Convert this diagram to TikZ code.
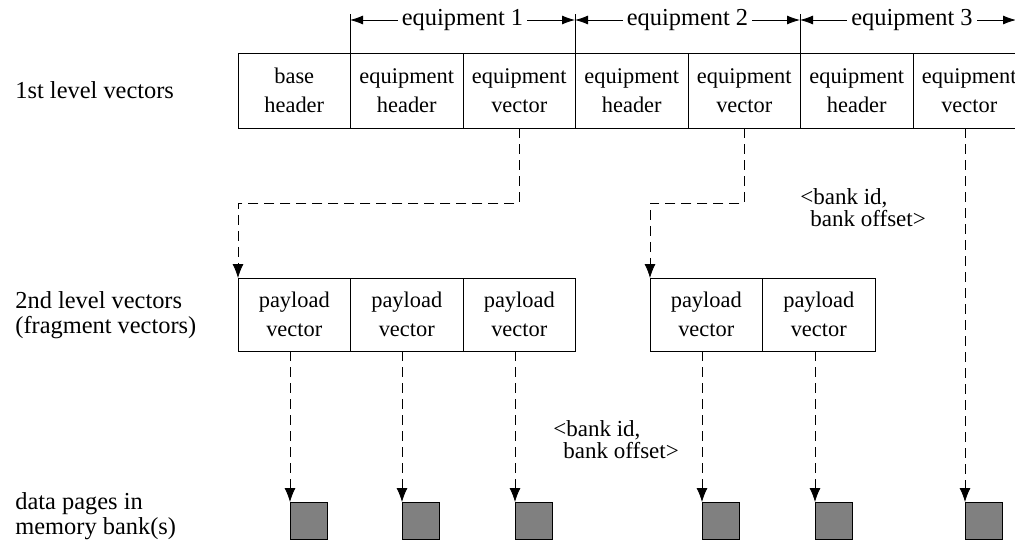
\documentclass[tikz,border=0pt]{standalone}
\usepackage{fontspec}
\setmainfont{Liberation Serif}
\usetikzlibrary{positioning,arrows.meta}

\tikzset{
  cell/.style={rectangle, draw, outer sep=0pt, inner sep=0pt, minimum width=56.25pt, minimum height=37.5pt, align=center, font=\fontsize{11.2}{14.5}\selectfont},
  pagebox/.style={rectangle, draw, fill=gray, outer sep=0pt, inner sep=0pt, minimum size=18.75pt},
  rowlabel/.style={inner sep=0pt, align=left, font=\fontsize{12.2}{12.5}\selectfont},
  addrlabel/.style={inner sep=0pt, align=left, anchor=north west, font=\fontsize{11.5}{9.5}\selectfont},
  ptr/.style={dash pattern=on 5pt off 3pt, -{Latex[length=7pt,width=5.5pt]}},
  span/.style={{Latex[length=6.5pt,width=4.5pt]}-{Latex[length=6.5pt,width=4.5pt]}}
}

\begin{document}
\begin{tikzpicture}[x=0.5pt, y=-0.5pt, node distance=0pt, font=\fontsize{12.2}{14}\selectfont]
  \clip (0,0) rectangle (1015,542);

  % row labels
  \node[rowlabel, anchor=base west] (lvl1) at (15,98) {1st level vectors};
  \node[rowlabel, anchor=north west] (lvl2) at (15,291) {2nd level vectors\\(fragment vectors)};
  \node[rowlabel, anchor=north west] (lvl3) at (15,492) {data pages in\\memory bank(s)};

  % 1st level
  \node[cell] (bh) at (294.25,90.5) {base\\header};
  \node[cell, right=of bh] (eh1) {equipment\\header};
  \node[cell, right=of eh1] (ev1) {equipment\\vector};
  \node[cell, right=of ev1] (eh2) {equipment\\header};
  \node[cell, right=of eh2] (ev2) {equipment\\vector};
  \node[cell, right=of ev2] (eh3) {equipment\\header};
  \node[cell, right=of eh3] (ev3) {equipment\\vector};

  % equipment spans
  \coordinate (s1) at (350,20);
  \coordinate (s2) at (575,20);
  \coordinate (s3) at (800,20);
  \coordinate (s4) at (1016,20);
  \foreach \c in {eh1,eh2,eh3}
    \draw (\c.north west) -- ++(0,-39);
  \draw[span] (s1) -- node[fill=white, inner sep=2pt] {equipment 1} (s2);
  \draw[span] (s2) -- node[fill=white, inner sep=2pt] {equipment 2} (s3);
  \draw[span] (s3) -- node[fill=white, inner sep=2pt, xshift=2] {equipment 3} (s4);

  % 2nd level
  \node[cell, minimum height=36.5pt] (pv1) at (294.25,314.5) {payload\\vector};
  \node[cell, minimum height=36.5pt, right=of pv1] (pv2) {payload\\vector};
  \node[cell, minimum height=36.5pt, right=of pv2] (pv3) {payload\\vector};
  \node[cell, minimum height=36.5pt] (pv4) at (706.25,314.5) {payload\\vector};
  \node[cell, minimum height=36.5pt, right=of pv4] (pv5) {payload\\vector};

  % data pages
  \node[pagebox, anchor=north west] (pg1) at (290,502) {};
  \node[pagebox, anchor=north west] (pg2) at (402,502) {};
  \node[pagebox, anchor=north west] (pg3) at (515,502) {};
  \node[pagebox, anchor=north west] (pg4) at (702,502) {};
  \node[pagebox, anchor=north west] (pg5) at (815,502) {};
  \node[pagebox, anchor=north west] (pg6) at (965,502) {};

  \node[addrlabel] (addr1) at (800,188) {<bank id,\\\hspace*{5pt}bank offset>};
  \node[addrlabel] (addr2) at (553,420) {<bank id,\\\hspace*{5pt}bank offset>};

  % pointers
  \draw[ptr] (ev1.south) -- ++(0,75) -| (pv1.north west);
  \draw[ptr] (ev2.south) -- ++(0,75) -| (pv4.north west);
  \draw[ptr] (ev3.south -| pg6.north west) -- (pg6.north west);
  \foreach \p/\g in {pv1/pg1, pv2/pg2, pv3/pg3, pv4/pg4, pv5/pg5}
    \draw[ptr] (\p.south -| \g.north west) -- (\g.north west);
\end{tikzpicture}
\end{document}
